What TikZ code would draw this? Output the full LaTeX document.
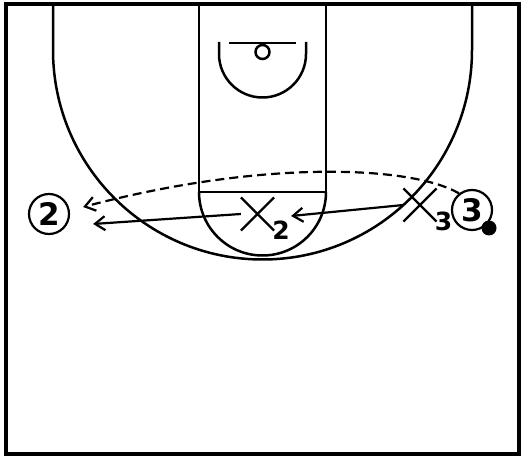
\documentclass[tikz,border=0pt]{standalone}
\usepackage{fontspec}
\setmainfont{DejaVu Sans}
\usetikzlibrary{arrows.meta,shapes.misc,positioning}

\begin{document}
\begin{tikzpicture}[x=1pt, y=1pt,
            >={Straight Barb[length=10pt,width=14pt]},
            court/.style = {line width=2.5pt},
            player/.style = {circle, draw, line width=2.2pt, minimum size=40pt, inner sep=0pt,
                    font=\bfseries\fontsize{31}{31}\selectfont},
            ball/.style = {circle, fill, minimum size=15pt, inner sep=0pt},
            defender/.style = {cross out, draw, line width=2.2pt, minimum size=31pt, inner sep=0pt},
            sub/.style = {inner sep=0pt, font=\bfseries\fontsize{25}{25}\selectfont},
            cut/.style = {->, line width=2.2pt},
            pass/.style = {->, line width=2.2pt, dash pattern=on 9pt off 5pt},
        ]

        \useasboundingbox (0,0) rectangle (525,458);

        % half court
        \draw[line width=3.5pt] (6,4) rectangle (519,454);
        \draw[court] (53,454) -- (53,408) arc[start angle=180, end angle=360, radius=209.5] -- (472,454);
        \draw[court] (199,454) -- (199,266) -- (326,266) -- (326,454);
        \draw[court] (199,266) arc[start angle=180, end angle=360, radius=63.5];
        \draw[court] (229,415) -- (296,415);
        \draw[court] (262.5,406) circle[radius=7];
        \draw[court] (219,416) -- (219,404) arc[start angle=180, end angle=360, radius=43.5] -- (306,416);

        % players
        \node[player] (p2) at (49,244) {2};
        \node[player] (p3) at (472,248) {3};
        \node[ball] (ball) at (489,230) {};

        \node[defender] (x2) at (257.5,244) {};
        \node[sub, right=-2pt of x2.south east] {2};
        \node[defender] (x3) at (420,253) {};
        \node[sub, right=-2pt of x3.south east] {3};

        % moves
        \draw[cut] (x3.west) -- ([shift={(17,-2)}]x2.east);
        \draw[cut] (x2.west) -- ([shift={(23,-10)}]p2.east);
        \draw[pass] (p3.128) .. controls (410,293) and (260,298) .. ([shift={(13,7)}]p2.east);
    \end{tikzpicture}
\end{document}
